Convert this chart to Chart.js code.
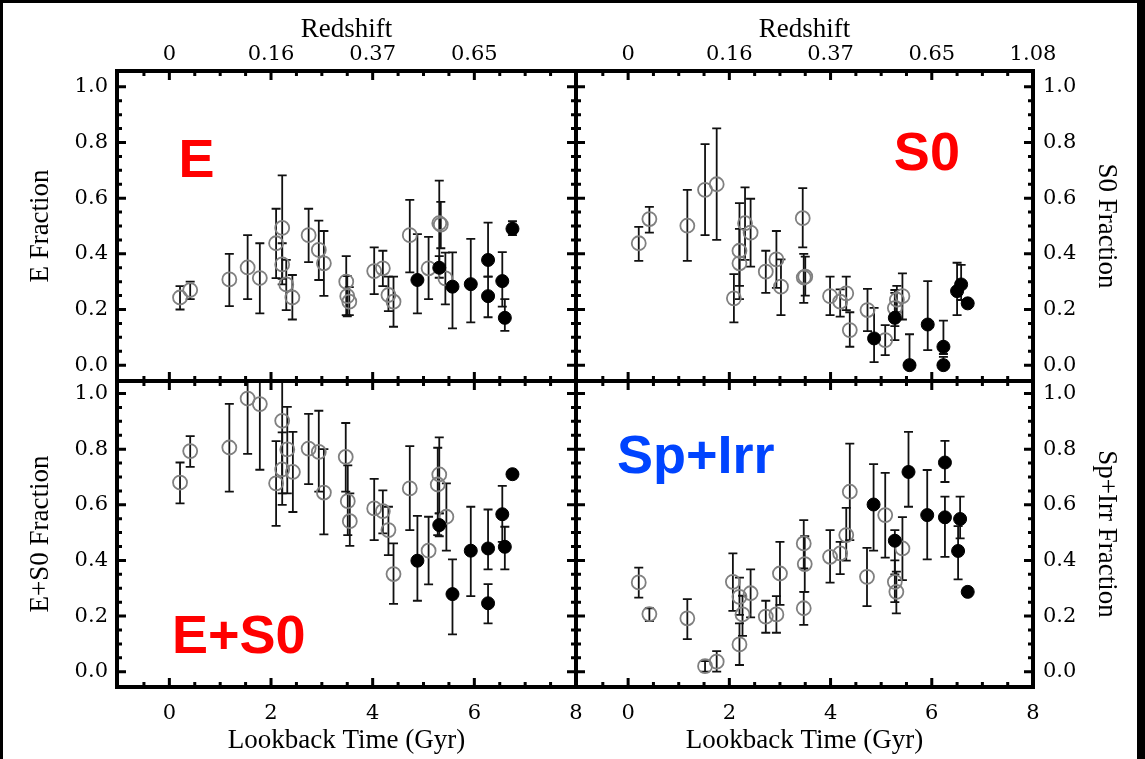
<!DOCTYPE html>
<html>
<head>
<meta charset="utf-8">
<script src="https://cdn.jsdelivr.net/npm/chart.js@4.4.0/dist/chart.umd.min.js"></script>
<style>
  html, body { margin: 0; padding: 0; background: #fff; }
  #page { position: relative; width: 1145px; height: 759px; background: #fff; overflow: hidden; }
  #page canvas { position: absolute; left: 0; top: 0; }
  #edge { position: absolute; left: 0; top: 0; width: 1145px; height: 759px; box-sizing: border-box;
          border-top: 3px solid #000; border-left: 3px solid #000; border-right: 8px solid #000; }
</style>
</head>
<body>
<div id="page">
  <div id="edge"></div>
  <canvas id="panelE" width="1145" height="759"></canvas>
  <canvas id="panelS0" width="1145" height="759"></canvas>
  <canvas id="panelES0" width="1145" height="759"></canvas>
  <canvas id="panelSp" width="1145" height="759"></canvas>
</div>
<script>
// rows: [lookback time (Gyr), fraction, lower error, upper error]
const timeTicks = [0, 2, 4, 6, 8];
const redshiftLabels = ['0', '0.16', '0.37', '0.65', '1.08'];
const fracTicks = [0, 0.2, 0.4, 0.6, 0.8, 1.0];

const eOpen = [
  [0.21, 0.243, 0.20, 0.284], [0.41, 0.27, 0.237, 0.30], [1.18, 0.308, 0.212, 0.40],
  [1.54, 0.351, 0.237, 0.467], [1.78, 0.313, 0.186, 0.438], [2.10, 0.438, 0.313, 0.562],
  [2.22, 0.493, 0.31, 0.682], [2.22, 0.362, 0.29, 0.438], [2.30, 0.29, 0.198, 0.378],
  [2.42, 0.243, 0.164, 0.324], [2.74, 0.467, 0.37, 0.562], [2.94, 0.414, 0.306, 0.519],
  [3.04, 0.366, 0.249, 0.482], [3.48, 0.30, 0.18, 0.392], [3.50, 0.248, 0.175, 0.32],
  [3.54, 0.228, 0.18, 0.28], [4.03, 0.338, 0.255, 0.423], [4.20, 0.348, 0.284, 0.411],
  [4.31, 0.252, 0.194, 0.318], [4.41, 0.228, 0.138, 0.318], [4.73, 0.467, 0.333, 0.594],
  [5.10, 0.348, 0.237, 0.461], [5.31, 0.51, 0.36, 0.663], [5.34, 0.505, 0.42, 0.587],
  [5.43, 0.312, 0.218, 0.404]
];
const eFilled = [
  [4.88, 0.306, 0.186, 0.471], [5.31, 0.35, 0.314, 0.392], [5.57, 0.282, 0.132, 0.405],
  [5.93, 0.291, 0.154, 0.454], [6.27, 0.378, 0.318, 0.512], [6.27, 0.248, 0.172, 0.318],
  [6.55, 0.302, 0.21, 0.406], [6.60, 0.17, 0.123, 0.237], [6.75, 0.49, 0.467, 0.517]
];

const s0Open = [
  [0.21, 0.438, 0.375, 0.497], [0.42, 0.525, 0.476, 0.569], [1.17, 0.501, 0.375, 0.63],
  [1.52, 0.63, 0.467, 0.794], [1.75, 0.65, 0.45, 0.851], [2.09, 0.24, 0.154, 0.327],
  [2.20, 0.411, 0.285, 0.582], [2.20, 0.366, 0.237, 0.49], [2.31, 0.51, 0.378, 0.639],
  [2.42, 0.476, 0.354, 0.598], [2.72, 0.336, 0.26, 0.411], [2.93, 0.38, 0.278, 0.482],
  [3.02, 0.282, 0.18, 0.38], [3.45, 0.528, 0.423, 0.636], [3.47, 0.315, 0.224, 0.40],
  [3.50, 0.318, 0.25, 0.39], [3.99, 0.248, 0.18, 0.318], [4.19, 0.228, 0.174, 0.272],
  [4.31, 0.258, 0.198, 0.318], [4.38, 0.126, 0.066, 0.19], [4.73, 0.198, 0.122, 0.274],
  [5.08, 0.09, 0.036, 0.144], [5.27, 0.205, 0.14, 0.27], [5.31, 0.235, 0.19, 0.285],
  [5.42, 0.248, 0.164, 0.33]
];
const s0Filled = [
  [4.86, 0.096, 0.011, 0.206], [5.27, 0.17, 0.09, 0.26], [5.56, 0.0, 0.0, 0.111],
  [5.92, 0.146, 0.054, 0.302], [6.23, 0.066, 0.04, 0.16], [6.23, 0.0, 0.0, 0.03],
  [6.50, 0.266, 0.18, 0.368], [6.58, 0.29, 0.234, 0.36], [6.71, 0.222, 0.21, 0.234]
];

const es0Open = [
  [0.21, 0.68, 0.605, 0.752], [0.41, 0.793, 0.736, 0.847], [1.18, 0.806, 0.647, 0.963],
  [1.54, 0.982, 0.783, 1.18], [1.78, 0.962, 0.726, 1.2], [2.10, 0.677, 0.524, 0.829],
  [2.22, 0.902, 0.641, 1.16], [2.22, 0.727, 0.60, 0.86], [2.32, 0.799, 0.641, 0.952],
  [2.43, 0.718, 0.574, 0.862], [2.74, 0.802, 0.674, 0.927], [2.94, 0.79, 0.647, 0.938],
  [3.04, 0.644, 0.494, 0.80], [3.47, 0.772, 0.647, 0.894], [3.51, 0.613, 0.491, 0.742],
  [3.55, 0.541, 0.452, 0.641], [4.03, 0.587, 0.473, 0.693], [4.20, 0.577, 0.497, 0.652],
  [4.31, 0.509, 0.419, 0.593], [4.41, 0.351, 0.244, 0.461], [4.73, 0.659, 0.509, 0.811],
  [5.10, 0.435, 0.314, 0.557], [5.28, 0.673, 0.491, 0.805], [5.31, 0.709, 0.569, 0.842],
  [5.45, 0.557, 0.435, 0.677]
];
const es0Filled = [
  [4.88, 0.399, 0.255, 0.56], [5.31, 0.527, 0.487, 0.569], [5.57, 0.279, 0.134, 0.404],
  [5.93, 0.435, 0.272, 0.593], [6.27, 0.443, 0.368, 0.583], [6.27, 0.246, 0.174, 0.315],
  [6.55, 0.566, 0.467, 0.668], [6.60, 0.449, 0.368, 0.521], [6.75, 0.71, 0.695, 0.725]
];

const spOpen = [
  [0.21, 0.321, 0.266, 0.374], [0.42, 0.207, 0.182, 0.228], [1.17, 0.192, 0.117, 0.261],
  [1.52, 0.02, 0.0, 0.038], [1.75, 0.036, 0.0, 0.074], [2.07, 0.323, 0.219, 0.425],
  [2.20, 0.269, 0.204, 0.338], [2.20, 0.098, 0.024, 0.174], [2.26, 0.206, 0.129, 0.273],
  [2.42, 0.282, 0.195, 0.368], [2.72, 0.198, 0.14, 0.255], [2.93, 0.206, 0.14, 0.272],
  [3.00, 0.353, 0.24, 0.467], [3.47, 0.461, 0.371, 0.545], [3.49, 0.387, 0.287, 0.487],
  [3.47, 0.228, 0.168, 0.287], [3.99, 0.413, 0.32, 0.509], [4.19, 0.425, 0.351, 0.467],
  [4.31, 0.491, 0.399, 0.589], [4.38, 0.647, 0.473, 0.82], [4.72, 0.341, 0.236, 0.445],
  [5.08, 0.563, 0.41, 0.715], [5.27, 0.323, 0.25, 0.40], [5.30, 0.287, 0.21, 0.36],
  [5.42, 0.443, 0.329, 0.556]
];
const spFilled = [
  [4.85, 0.601, 0.435, 0.746], [5.27, 0.471, 0.35, 0.509], [5.54, 0.718, 0.593, 0.862],
  [5.91, 0.563, 0.404, 0.725], [6.26, 0.752, 0.682, 0.83], [6.26, 0.555, 0.413, 0.629],
  [6.56, 0.549, 0.479, 0.629], [6.52, 0.434, 0.332, 0.523], [6.71, 0.287, 0.275, 0.30]
];

const tickFont = { family: '"DejaVu Serif", serif', size: 21 };
const titleFont = { family: '"Liberation Serif", "Times New Roman", serif', size: 27 };

// error bars, drawn under the symbols
const errorBars = {
  id: 'errorBars',
  beforeDatasetsDraw(chart) {
    const { ctx, chartArea: a, scales: { x, y } } = chart;
    ctx.save();
    ctx.beginPath();
    ctx.rect(a.left, a.top, a.width, a.height);
    ctx.clip();
    ctx.strokeStyle = '#111';
    ctx.lineWidth = 1.8;
    chart.data.datasets.forEach(ds => {
      ds.rows.forEach(r => {
        const px = x.getPixelForValue(r[0]);
        const lo = y.getPixelForValue(r[2]);
        const hi = y.getPixelForValue(r[3]);
        ctx.beginPath();
        ctx.moveTo(px, lo); ctx.lineTo(px, hi);
        ctx.moveTo(px - 4.5, lo); ctx.lineTo(px + 4.5, lo);
        ctx.moveTo(px - 4.5, hi); ctx.lineTo(px + 4.5, hi);
        ctx.stroke();
      });
    });
    ctx.restore();
  }
};

// thick frame with inward ticks, plus the big panel label
const frame = {
  id: 'frame',
  afterDraw(chart, args, opts) {
    const { ctx, chartArea: a, scales: { x, y } } = chart;
    ctx.save();
    ctx.strokeStyle = '#000';
    ctx.lineWidth = 3;
    ctx.beginPath();
    for (let v = -0.5; v <= 7.75; v += 0.5) {
      const len = timeTicks.includes(v) ? 9 : 5;
      const px = x.getPixelForValue(v);
      ctx.moveTo(px, a.top); ctx.lineTo(px, a.top + len);
      ctx.moveTo(px, a.bottom); ctx.lineTo(px, a.bottom - len);
    }
    for (let i = 0; i <= 20; i++) {
      const v = i * 0.05;
      const len = i % 4 === 0 ? 9 : 5;
      const py = y.getPixelForValue(v);
      ctx.moveTo(a.left, py); ctx.lineTo(a.left + len, py);
      ctx.moveTo(a.right, py); ctx.lineTo(a.right - len, py);
    }
    ctx.stroke();
    ctx.lineWidth = 4;
    ctx.strokeRect(a.left, a.top, a.width, a.height);

    ctx.fillStyle = opts.color;
    ctx.font = 'bold 54px "Liberation Sans", Arial, sans-serif';
    ctx.textBaseline = 'alphabetic';
    ctx.textAlign = 'left';
    ctx.fillText(opts.text, x.getPixelForValue(opts.at[0]) - 3, y.getPixelForValue(opts.at[1]));
    ctx.restore();
  }
};

function makePanel(id, cfg) {
  const top = cfg.row === 'top';
  const right = cfg.col === 'right';
  new Chart(document.getElementById(id), {
    type: 'scatter',
    data: {
      datasets: [
        { rows: cfg.filled, data: cfg.filled.map(r => ({ x: r[0], y: r[1] })),
          pointRadius: 6.5, pointBackgroundColor: '#000', pointBorderColor: '#000', pointBorderWidth: 1 },
        { rows: cfg.open, data: cfg.open.map(r => ({ x: r[0], y: r[1] })),
          pointRadius: 7, pointBackgroundColor: 'rgba(0,0,0,0)', pointBorderColor: '#808080', pointBorderWidth: 1.8 }
      ]
    },
    options: {
      responsive: false,
      animation: false,
      devicePixelRatio: 1,
      layout: {
        padding: {
          left: right ? 576 : 0, right: right ? 0 : 569,
          top: top ? 0 : 381, bottom: top ? 378 : 0
        }
      },
      plugins: {
        legend: { display: false },
        tooltip: { enabled: false },
        frame: { text: cfg.label, color: cfg.labelColor, at: cfg.labelAt }
      },
      scales: {
        x: {
          type: 'linear', position: top ? 'top' : 'bottom', min: -1.03, max: 8,
          afterBuildTicks: s => { s.ticks = timeTicks.map(v => ({ value: v })); },
          afterFit: s => { s.height = top ? 71 : 72; },
          grid: { display: false, drawTicks: false },
          border: { display: false },
          ticks: {
            font: tickFont, color: '#000', padding: top ? 4 : 14, maxRotation: 0, autoSkip: false,
            callback: (v, i) => top ? ((cfg.hideLastZ && i === timeTicks.length - 1) ? '' : redshiftLabels[i]) : String(v)
          },
          title: {
            display: true, text: top ? 'Redshift' : 'Lookback Time (Gyr)', font: titleFont, color: '#000',
            padding: top ? { top: 14, bottom: 0 } : { top: 0, bottom: 2 }
          }
        },
        y: {
          type: 'linear', position: right ? 'right' : 'left', min: cfg.yMin, max: cfg.yMax,
          afterBuildTicks: s => { s.ticks = fracTicks.map(v => ({ value: v })); },
          afterFit: s => { s.width = right ? 112 : 117; },
          grid: { display: false, drawTicks: false },
          border: { display: false },
          ticks: { font: tickFont, color: '#000', padding: right ? 10 : 9, callback: v => v.toFixed(1) },
          title: {
            display: true, text: cfg.yTitle, font: titleFont, color: '#000',
            padding: { top: right ? 23 : 25, bottom: 0 }
          }
        }
      }
    },
    plugins: [errorBars, frame]
  });
}

makePanel('panelE', { row: 'top', col: 'left', open: eOpen, filled: eFilled, yMin: -0.057, yMax: 1.057,
  yTitle: 'E Fraction', label: 'E', labelColor: '#ff0000', labelAt: [0.24, 0.677], hideLastZ: true });
makePanel('panelS0', { row: 'top', col: 'right', open: s0Open, filled: s0Filled, yMin: -0.057, yMax: 1.057,
  yTitle: 'S0 Fraction', label: 'S0', labelColor: '#ff0000', labelAt: [5.31, 0.701] });
makePanel('panelES0', { row: 'bottom', col: 'left', open: es0Open, filled: es0Filled, yMin: -0.055, yMax: 1.045,
  yTitle: 'E+S0 Fraction', label: 'E+S0', labelColor: '#ff0000', labelAt: [0.11, 0.067] });
makePanel('panelSp', { row: 'bottom', col: 'right', open: spOpen, filled: spFilled, yMin: -0.055, yMax: 1.045,
  yTitle: 'Sp+Irr Fraction', label: 'Sp+Irr', labelColor: '#0044ff', labelAt: [-0.16, 0.714] });
</script>
</body>
</html>
